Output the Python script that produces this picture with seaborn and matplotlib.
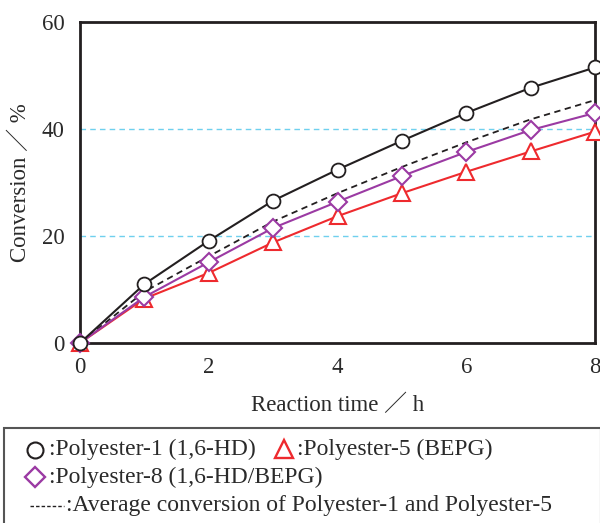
import matplotlib
matplotlib.use("Agg")
import matplotlib.pyplot as plt
from matplotlib.lines import Line2D
from matplotlib.patches import Rectangle
import seaborn as sns
import pandas as pd

# Reaction time (h) and conversion (%) for each polyester
time_h = [0, 1, 2, 3, 4, 5, 6, 7, 8]
polyester_1 = [0, 11.0, 19.1, 26.6, 32.4, 37.8, 43.0, 47.7, 51.5]
polyester_5 = [0, 8.3, 13.1, 18.8, 23.7, 28.0, 32.0, 35.8, 39.5]
polyester_8 = [0, 8.6, 15.1, 21.5, 26.4, 31.2, 35.7, 39.8, 43.0]
average_1_5 = [0, 9.6, 16.2, 22.7, 28.0, 32.9, 37.5, 41.8, 45.4]

x_ticks = [0, 2, 4, 6, 8]
y_ticks = [0, 20, 40, 60]

sns.set_theme(style="white")
serif = ["Liberation Serif", "Noto Sans CJK JP", "DejaVu Sans"]
plt.rcParams["font.family"] = serif

fig = plt.figure(figsize=(6.0, 5.23), dpi=100)
ax = fig.add_axes([80 / 600, 1 - 343 / 523, 515 / 600, 321 / 523])

BLACK = "#231f20"
TEXT = "#2a2a2a"
RED = "#ee2a2e"
PURPLE = "#9b3aa3"
CYAN = "#6fd0ee"

# reference lines
for yv in [20, 40]:
    ax.axhline(yv, color=CYAN, lw=1.0, ls=(0, (4, 3)), zorder=1)

df = pd.DataFrame({"t": time_h, "p1": polyester_1, "p5": polyester_5,
                   "p8": polyester_8, "avg": average_1_5})

sns.lineplot(data=df, x="t", y="avg", ax=ax, color=BLACK, lw=1.3,
             linestyle=(0, (3.5, 2.5)), zorder=2)
sns.lineplot(data=df, x="t", y="p5", ax=ax, color=RED, lw=1.5, marker="^",
             markersize=11, markerfacecolor="white", markeredgecolor=RED,
             markeredgewidth=1.5, zorder=3, clip_on=False)
sns.lineplot(data=df, x="t", y="p8", ax=ax, color=PURPLE, lw=1.5, marker="D",
             markersize=9, markerfacecolor="white", markeredgecolor=PURPLE,
             markeredgewidth=1.5, zorder=4, clip_on=False)
sns.lineplot(data=df, x="t", y="p1", ax=ax, color=BLACK, lw=1.5, marker="o",
             markersize=10, markerfacecolor="white", markeredgecolor=BLACK,
             markeredgewidth=1.3, zorder=5, clip_on=False)

ax.set_xlim(0, 8)
ax.set_ylim(0, 60)
ax.set_xticks(x_ticks)
ax.set_yticks(y_ticks)
ax.tick_params(direction="in", length=5, width=1.2, color=BLACK,
               labelsize=16.5, labelcolor=TEXT)
ax.tick_params(axis="x", pad=10)
ax.tick_params(axis="y", pad=11)
for s in ax.spines.values():
    s.set_color(BLACK)
    s.set_linewidth(2.0)
    s.set_visible(True)
ax.set_xlabel("Reaction time ／ h", fontsize=16.5, color=TEXT, labelpad=12)
ax.set_ylabel("Conversion ／ %", fontsize=16.5, color=TEXT, labelpad=8)

# legend panel
fig.patches.append(Rectangle((4 / 600, -0.05), 0.995, 1 - 428 / 523 + 0.05,
                             transform=fig.transFigure, fill=False,
                             edgecolor="#555555", lw=1.5))


def fy(py):
    return 1 - py / 523


def fx(px):
    return px / 600


lab_kw = dict(fontsize=17, color=TEXT, va="center", ha="left",
              family=serif)

fig.lines.append(Line2D([fx(34.5)], [fy(450)], marker="o", ms=11.5, mfc="white",
                        mec=BLACK, mew=1.5, transform=fig.transFigure))
fig.text(fx(49), fy(449), ":Polyester-1 (1,6-HD)", **lab_kw)
fig.lines.append(Line2D([fx(284)], [fy(449)], marker="^", ms=13, mfc="white",
                        mec=RED, mew=1.7, transform=fig.transFigure))
fig.text(fx(297), fy(449), ":Polyester-5 (BEPG)", **lab_kw)
fig.lines.append(Line2D([fx(34.5)], [fy(477)], marker="D", ms=10.5, mfc="white",
                        mec=PURPLE, mew=1.7, transform=fig.transFigure))
fig.text(fx(49), fy(477), ":Polyester-8 (1,6-HD/BEPG)", **lab_kw)
fig.lines.append(Line2D([fx(30), fx(64)], [fy(506), fy(506)], color=BLACK,
                        lw=1.0, ls=(0, (2.5, 1.5)), transform=fig.transFigure))
fig.text(fx(66), fy(505), ":Average conversion of Polyester-1 and Polyester-5",
         **lab_kw)

fig.savefig("out.png", dpi=100)
